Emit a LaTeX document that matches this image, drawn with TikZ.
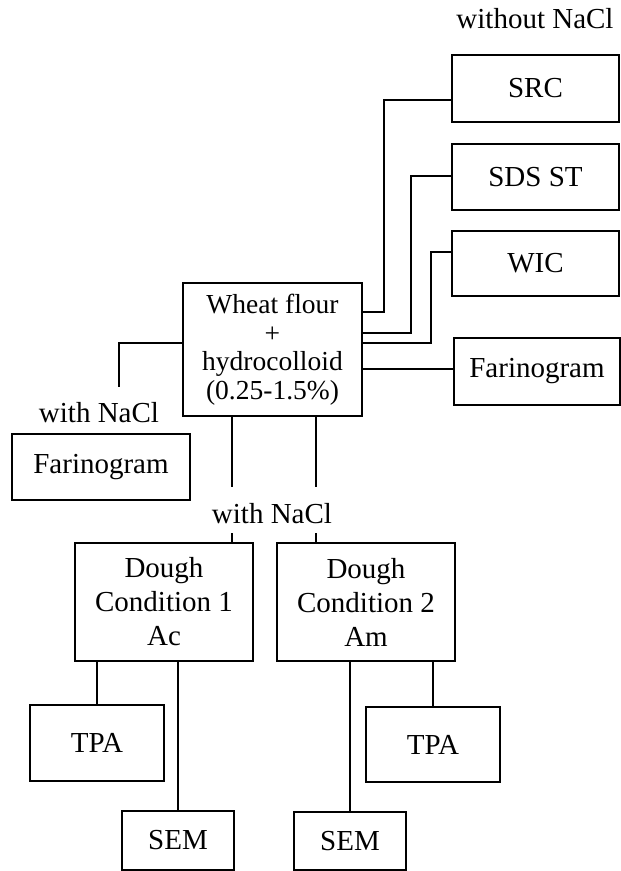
\documentclass[tikz,border=0pt]{standalone}
\usepackage{fontspec}
\setmainfont{Liberation Serif}
\begin{document}
\begin{tikzpicture}[x=1pt,y=-1pt,
  box/.style={draw,line width=1.3pt,inner sep=0pt,align=center,font=\fontsize{29}{34}\selectfont},
  lbl/.style={inner sep=0pt,anchor=base,font=\fontsize{29}{34}\selectfont},
  conn/.style={line width=1.3pt}]
\useasboundingbox (0,0) rectangle (621,871);
% nodes
\node[box,minimum width=167pt,minimum height=67pt] (src) at (535.5,88.5) {SRC};
\node[box,minimum width=167pt,minimum height=66pt] (sds) at (535.5,177) {SDS ST};
\node[box,minimum width=167pt,minimum height=65pt] (wic) at (535.5,263.5) {WIC};
\node[box,minimum width=166pt,minimum height=67pt] (farR) at (537,371.5) {Farinogram};
\node[box,minimum width=179pt,minimum height=133pt,font=\fontsize{27.5}{28.5}\selectfont] (wheat) at (272.5,349.5) {Wheat flour\\+\\hydrocolloid\\(0.25-1.5\%)};
\node[box,minimum width=178pt,minimum height=66pt] (farL) at (101,467) {Farinogram};
\node[box,minimum width=178pt,minimum height=118pt] (d1) at (164,602) {Dough\\Condition 1\\Ac};
\node[box,minimum width=178pt,minimum height=118pt] (d2) at (366,602) {Dough\\Condition 2\\Am};
\node[box,minimum width=134pt,minimum height=76pt] (tpa1) at (97,743) {TPA};
\node[box,minimum width=134pt,minimum height=75pt] (tpa2) at (433,744.5) {TPA};
\node[box,minimum width=112pt,minimum height=59pt] (sem1) at (178,840.5) {SEM};
\node[box,minimum width=112pt,minimum height=58pt] (sem2) at (350,841) {SEM};
% labels
\node[lbl] (wo) at (535,28) {without NaCl};
\node[lbl] (wl) at (99,422) {with NaCl};
\node[lbl] (wm) at (272,523) {with NaCl};
% free ends
\coordinate (lend) at (119,387);
\coordinate (m1top) at (232,487);
\coordinate (m2top) at (316,487);
\coordinate (s1) at (232,533);
\coordinate (s2) at (316,533);
% connectors
\draw[conn] (wheat.east |- 0,312) -| (384,100) -- (src.west |- 0,100);
\draw[conn] (wheat.east |- 0,333) -| (411,176) -- (sds.west |- 0,176);
\draw[conn] (wheat.east |- 0,343) -| (431,252) -- (wic.west |- 0,252);
\draw[conn] (wheat.east |- 0,369) -- (farR.west |- 0,369);
\draw[conn] (wheat.west |- 0,343) -| (lend);
\draw[conn] (wheat.south -| m1top) -- (m1top);
\draw[conn] (wheat.south -| m2top) -- (m2top);
\draw[conn] (s1) -- (d1.north -| s1);
\draw[conn] (s2) -- (d2.north -| s2);
\draw[conn] (d1.south -| tpa1.north) -- (tpa1.north);
\draw[conn] (d1.south -| sem1.north) -- (sem1.north);
\draw[conn] (d2.south -| sem2.north) -- (sem2.north);
\draw[conn] (d2.south -| tpa2.north) -- (tpa2.north);
\end{tikzpicture}
\end{document}
